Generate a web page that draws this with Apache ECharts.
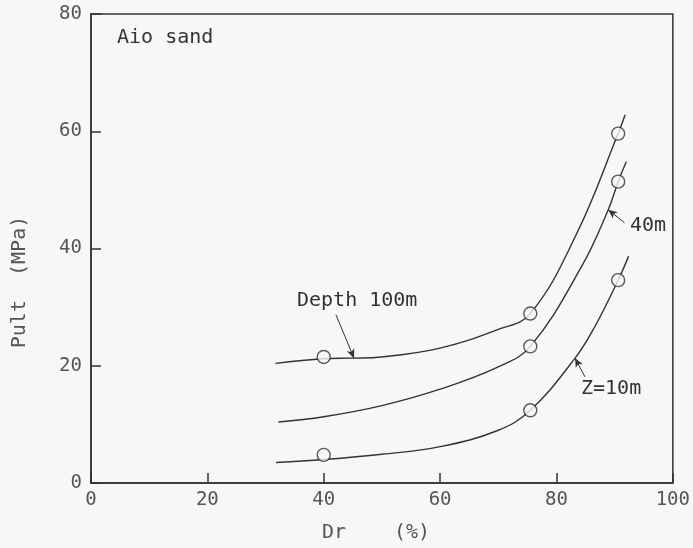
<!DOCTYPE html>
<html>
<head>
<meta charset="utf-8">
<script src="https://cdn.jsdelivr.net/npm/echarts@6/dist/echarts.min.js"></script>
<style>
  html, body { margin: 0; padding: 0; background: #f8f6f7; }
  #main { width: 693px; height: 548px; }
</style>
</head>
<body>
<div id="main"></div>
<script>
var chart = echarts.init(document.getElementById("main"));

// tick labels
var xTicks = [0, 20, 40, 60, 80, 100];
var yTicks = [0, 20, 40, 60, 80];

// measured points (open circles)
var depth100Pts = [[40, 21.5], [75.5, 28.9], [90.6, 59.6]];
var depth40Pts = [[75.5, 23.3], [90.6, 51.4]];
var depth10Pts = [[40, 4.8], [75.5, 12.4], [90.6, 34.6]];

// fitted curves
var depth100Dr = [31.7, 40, 45, 50, 60, 70, 75.5, 83.5, 90.6, 91.8];
var depth100Pu = [20.4, 21.2, 21.3, 21.5, 23.0, 26.2, 28.9, 42.6, 59.6, 62.8];
var depth40Dr = [32.2, 40, 50, 60, 70, 75.5, 84.3, 88.9, 90.6, 92.0];
var depth40Pu = [10.4, 11.3, 13.2, 16.0, 19.8, 23.3, 36.9, 46.6, 51.4, 54.8];
var depth10Dr = [31.8, 40, 50, 60, 70, 75.5, 83.2, 86.6, 90.6, 92.4];
var depth10Pu = [3.5, 4.0, 4.9, 6.2, 9.0, 12.4, 21.3, 26.7, 34.6, 38.7];

function pairs(xs, ys) {
  return xs.map(function (x, i) { return [x, ys[i]]; });
}

var ink = "#333";
var bg = "#f8f6f7";
var mono = "DejaVu Sans Mono";

function arrow(from, to) {
  return {
    silent: true,
    symbol: ["none", "arrow"],
    symbolSize: [6, 9],
    lineStyle: { color: ink, width: 1, type: "solid" },
    label: { show: false },
    animation: false,
    data: [[{ coord: from }, { coord: to }]]
  };
}

function curve(name, xs, ys, mark) {
  return {
    name: name,
    type: "line",
    data: pairs(xs, ys),
    smooth: 0.4,
    showSymbol: false,
    lineStyle: { color: ink, width: 1.4 },
    markLine: mark,
    z: 2
  };
}

function dots(name, pts) {
  return {
    name: name,
    type: "scatter",
    data: pts,
    symbol: "circle",
    symbolSize: 13,
    itemStyle: { color: bg, borderColor: ink, borderWidth: 1.4 },
    z: 5
  };
}

var option = {
  backgroundColor: bg,
  animation: false,
  grid: {
    left: 91, right: 18, top: 14, bottom: 65,
    show: true, borderColor: ink, borderWidth: 1.5
  },
  xAxis: {
    type: "value",
    min: xTicks[0], max: xTicks[xTicks.length - 1], interval: 20,
    axisLine: { lineStyle: { color: ink, width: 1.5 } },
    axisTick: { inside: true, length: 10, lineStyle: { color: ink, width: 1.5 } },
    axisLabel: { color: "#555", fontSize: 19, fontFamily: mono, margin: 8 },
    splitLine: { show: false }
  },
  yAxis: {
    type: "value",
    min: yTicks[0], max: yTicks[yTicks.length - 1], interval: 20,
    axisLine: { lineStyle: { color: ink, width: 1.5 } },
    axisTick: { inside: true, length: 10, lineStyle: { color: ink, width: 1.5 } },
    axisLabel: { color: "#555", fontSize: 19, fontFamily: mono, margin: 9 },
    splitLine: { show: false }
  },
  series: [
    curve("Depth 100m", depth100Dr, depth100Pu, arrow([42.1, 28.7], [45.2, 21.3])),
    curve("40m", depth40Dr, depth40Pu, arrow([91.7, 44.4], [88.9, 46.6])),
    curve("Z=10m", depth10Dr, depth10Pu, arrow([84.9, 18.1], [83.2, 21.3])),
    dots("Depth 100m pts", depth100Pts),
    dots("40m pts", depth40Pts),
    dots("Z=10m pts", depth10Pts)
  ],
  graphic: [
    { type: "text", left: 117, top: 28, style: { text: "Aio sand", font: "20px " + mono, fill: ink } },
    { type: "text", left: 297, top: 291, style: { text: "Depth 100m", font: "20px " + mono, fill: ink } },
    { type: "text", left: 630, top: 216, style: { text: "40m", font: "20px " + mono, fill: ink } },
    { type: "text", left: 581, top: 379, style: { text: "Z=10m", font: "20px " + mono, fill: ink } },
    { type: "text", left: 322, top: 523, style: { text: "Dr", font: "20px " + mono, fill: "#555" } },
    { type: "text", left: 394, top: 523, style: { text: "(%)", font: "20px " + mono, fill: "#555" } },
    {
      type: "text", x: 20, y: 282, rotation: Math.PI / 2,
      style: { text: "Pult  (MPa)", font: "20px " + mono, fill: "#555", align: "center", verticalAlign: "middle" }
    }
  ]
};

chart.setOption(option);
</script>
</body>
</html>
